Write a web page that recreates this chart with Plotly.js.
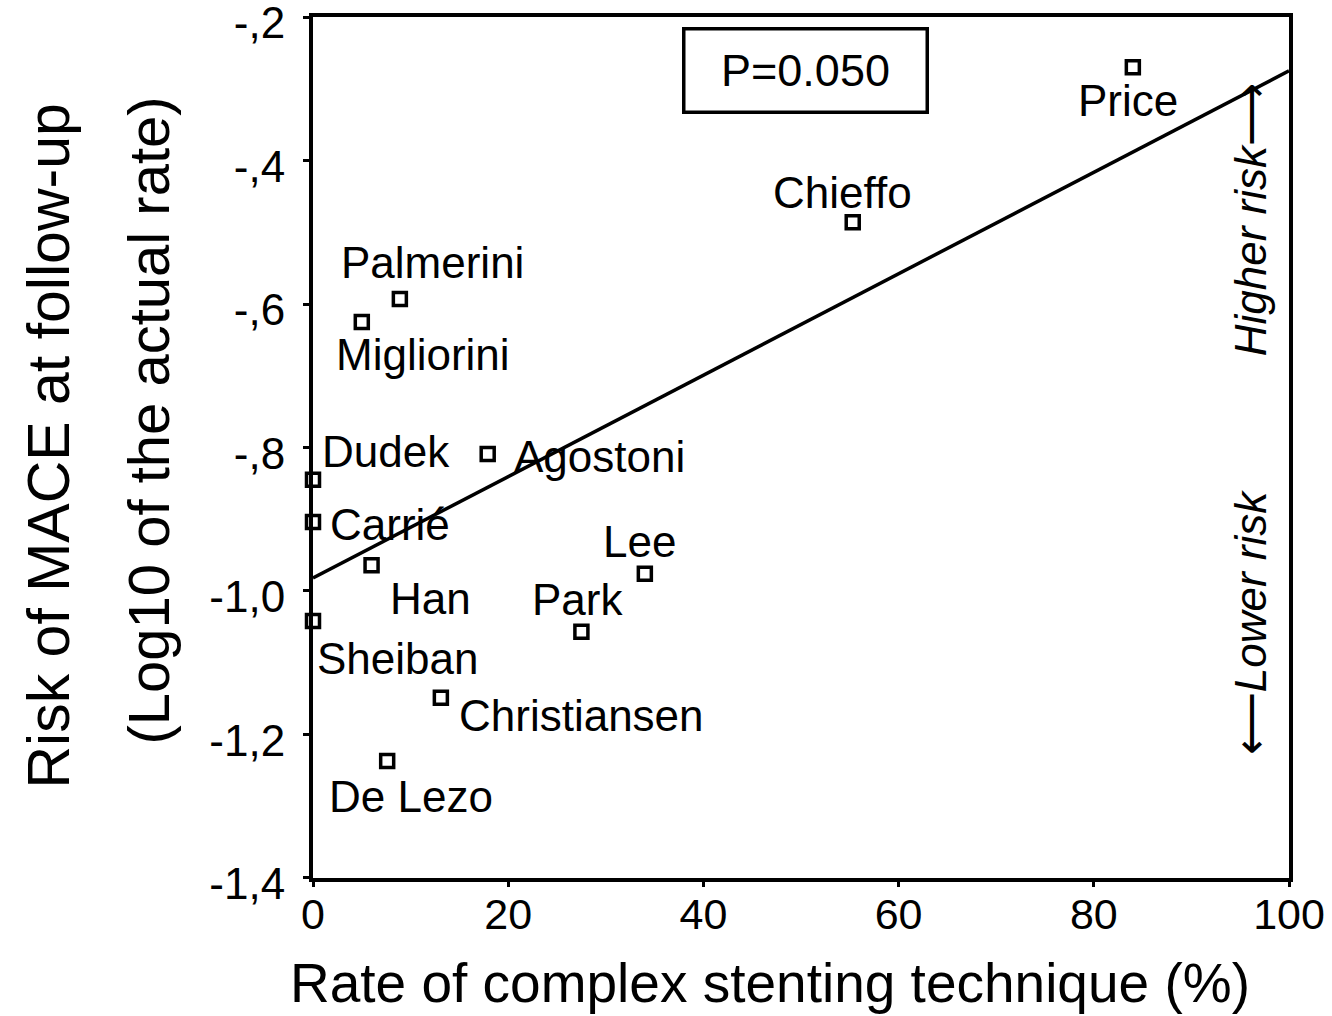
<!DOCTYPE html>
<html>
<head>
<meta charset="utf-8">
<script src="https://cdn.plot.ly/plotly-3.0.1.min.js"></script>
<style>
  html, body { margin: 0; padding: 0; background: #fff; }
  #chart { width: 1332px; height: 1016px; }
</style>
</head>
<body>
<div id="chart"></div>
<script>
// Studies: rate of complex stenting (%) vs log10 of MACE rate at follow-up
const studies = ["Price", "Chieffo", "Palmerini", "Migliorini", "Dudek", "Agostoni",
                 "Carrié", "Han", "Sheiban", "Lee", "Park", "Christiansen", "De Lezo"];
const complexRate = [84.0, 55.3, 8.9, 5.0, 0.0, 17.9, 0.0, 6.0, 0.0, 34.0, 27.5, 13.1, 7.6];
const logMace = [-0.270, -0.486, -0.593, -0.625, -0.845, -0.809, -0.904, -0.964, -1.042,
                 -0.976, -1.057, -1.149, -1.237];

// Meta-regression line (endpoints over the axis range)
const fitX = [0, 100];
const fitY = [-0.982, -0.275];

const pValueText = "P=0.050";

const xTickVals = [0, 20, 40, 60, 80, 100];
const xTickText = ["0", "20", "40", "60", "80", "100"];
const yTickVals = [-0.2, -0.4, -0.6, -0.8, -1.0, -1.2, -1.4];
const yTickText = ["-,2", "-,4", "-,6", "-,8", "-1,0", "-1,2", "-1,4"];

const xTitle = "Rate of complex stenting technique (%)";
const yTitleLines = ["Risk of MACE at follow-up", "(Log10 of the actual rate)"];

// Label placement around each marker, in pixels (right / down)
const labelShift = {
  "Price": [-5, 33], "Chieffo": [-10, -30], "Palmerini": [33, -37],
  "Migliorini": [61, 33], "Dudek": [73, -28], "Agostoni": [112, 3],
  "Carrié": [77, 2], "Han": [59, 33], "Sheiban": [84, 37],
  "Lee": [-5, -32], "Park": [-4, -32], "Christiansen": [141, 18], "De Lezo": [24, 35]
};

const FONT = "Arial, 'Liberation Sans', Helvetica, sans-serif";

const traces = [
  {
    x: fitX, y: fitY, mode: "lines", type: "scatter",
    line: { color: "#000", width: 3.5 }, hoverinfo: "skip", showlegend: false
  },
  {
    x: complexRate, y: logMace, mode: "markers", type: "scatter",
    text: studies, cliponaxis: false, showlegend: false,
    marker: { symbol: "square-open", size: 13, color: "#000", line: { color: "#000", width: 3.5 } }
  }
];

const annotations = studies.map((name, i) => ({
  x: complexRate[i], y: logMace[i], xref: "x", yref: "y",
  text: name, showarrow: false,
  xshift: labelShift[name][0], yshift: -labelShift[name][1],
  font: { family: FONT, size: 44, color: "#000" }
}));

// P-value box
annotations.push({
  xref: "paper", yref: "paper", x: 0.505, y: 0.938,
  text: pValueText, showarrow: false,
  font: { family: FONT, size: 45, color: "#000" },
  bordercolor: "#000", borderwidth: 3.5, borderpad: 10, bgcolor: "#fff",
  xanchor: "center", yanchor: "middle", width: 220, height: 60
});
// Direction hints along the right edge
annotations.push({
  xref: "paper", yref: "paper", x: 0.96, y: 0.765,
  text: "<i>Higher risk</i>⟶", textangle: -90, showarrow: false,
  font: { family: FONT, size: 44, color: "#000" }, xanchor: "center", yanchor: "middle"
});
annotations.push({
  xref: "paper", yref: "paper", x: 0.96, y: 0.297,
  text: "⟵<i>Lower risk</i>", textangle: -90, showarrow: false,
  font: { family: FONT, size: 44, color: "#000" }, xanchor: "center", yanchor: "middle"
});
// Axis titles
annotations.push({
  xref: "paper", yref: "paper", x: 0, y: 0.5, xshift: -265, yshift: 1,
  text: yTitleLines[0], textangle: -90, showarrow: false,
  font: { family: FONT, size: 59, color: "#000" }, xanchor: "center", yanchor: "middle"
});
annotations.push({
  xref: "paper", yref: "paper", x: 0, y: 0.5, xshift: -165, yshift: 27,
  text: yTitleLines[1], textangle: -90, showarrow: false,
  font: { family: FONT, size: 58, color: "#000" }, xanchor: "center", yanchor: "middle"
});
annotations.push({
  xref: "paper", yref: "paper", x: 0.5, y: 0, xshift: -31, yshift: -105,
  text: xTitle, showarrow: false,
  font: { family: FONT, size: 55, color: "#000" }, xanchor: "center", yanchor: "middle"
});

const layout = {
  width: 1332, height: 1016,
  margin: { l: 313, r: 43, t: 17, b: 138 },
  paper_bgcolor: "#fff", plot_bgcolor: "#fff",
  font: { family: FONT, color: "#000" },
  showlegend: false,
  xaxis: {
    range: [0, 100], tickvals: xTickVals, ticktext: xTickText,
    showgrid: false, zeroline: false,
    showline: true, linecolor: "#000", linewidth: 4, mirror: true,
    ticks: "outside", ticklen: 5, tickwidth: 3, tickcolor: "#000",
    ticklabelstandoff: -10, ticklabeloverflow: "allow",
    tickfont: { family: FONT, size: 43 }
  },
  yaxis: {
    range: [-1.4001, -0.1999], tickvals: yTickVals, ticktext: yTickText,
    showgrid: false, zeroline: false,
    showline: true, linecolor: "#000", linewidth: 4, mirror: true,
    ticks: "outside", ticklen: 6, tickwidth: 3, tickcolor: "#000",
    ticklabelstandoff: 9, ticklabelshift: 6, ticklabeloverflow: "allow",
    tickfont: { family: FONT, size: 44 }
  },
  annotations: annotations
};

Plotly.newPlot("chart", traces, layout, { displayModeBar: false, staticPlot: true });
</script>
</body>
</html>
